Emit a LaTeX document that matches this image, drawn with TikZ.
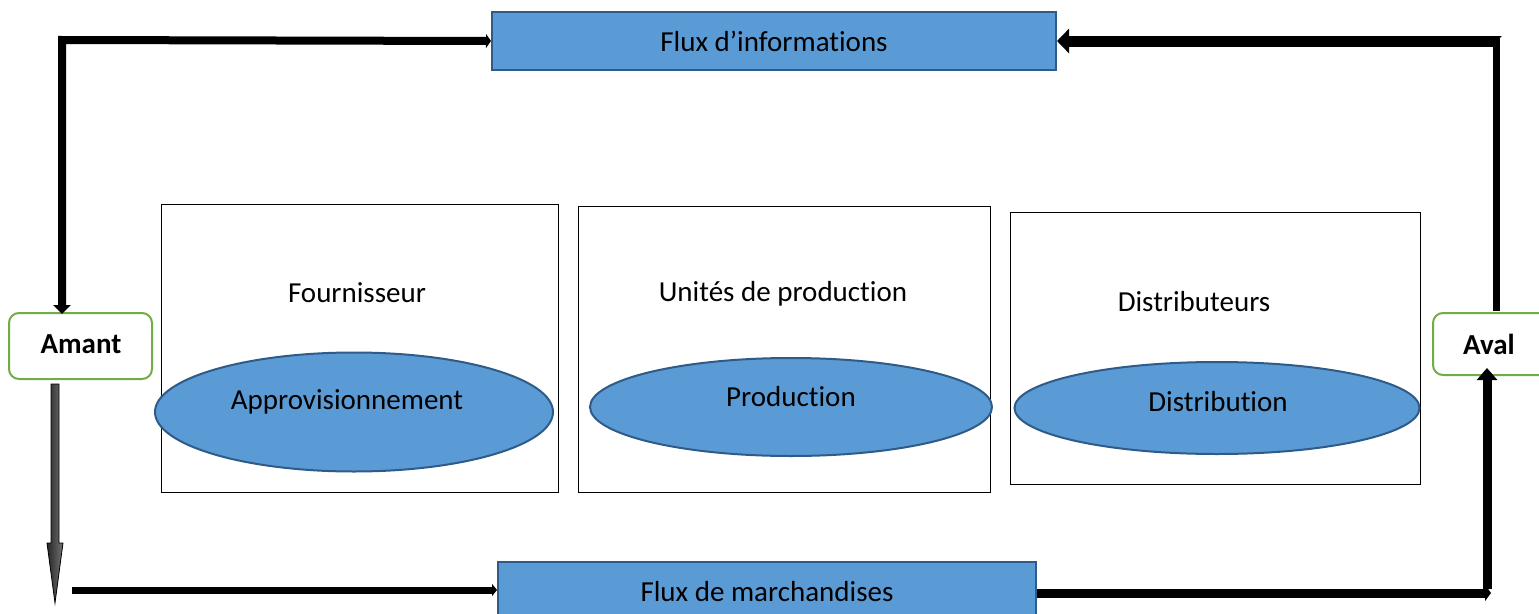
\documentclass[tikz,border=0pt]{standalone}
\usepackage{fontspec}
\setmainfont[Ligatures=NoCommon]{Carlito}
\usetikzlibrary{arrows.meta,shapes.geometric}
\definecolor{fblue}{HTML}{5B9BD5}
\definecolor{dblue}{HTML}{2F5B88}
\definecolor{gborder}{HTML}{70AD47}
\tikzset{
  fluxbox/.style={draw=dblue, line width=2pt, fill=fblue, minimum height=58pt, inner sep=0pt, font=\fontsize{29}{34}\selectfont},
  actor/.style={draw=black, line width=0.8pt, fill=white, inner sep=0pt},
  oval/.style={ellipse, draw=dblue, line width=2pt, fill=fblue, inner sep=0pt},
  lbl/.style={font=\fontsize{29}{34}\selectfont, inner sep=0pt},
  boldlbl/.style={font=\bfseries\fontsize{29}{34}\selectfont, inner sep=0pt},
  endbox/.style={draw=gborder, line width=2pt, rounded corners=10pt, fill=white, inner sep=0pt},
}
\begin{document}
\begin{tikzpicture}[x=1pt,y=-1pt]
\useasboundingbox (0,0) rectangle (1539,613);
\clip (0,0) rectangle (1539,613);
% flux boxes
\node[fluxbox, minimum width=564pt] (info) at (774,41) {Flux d’informations};
\node[fluxbox, minimum width=538pt, minimum height=60pt] (march) at (767,592) {};
\node[lbl] (marchtxt) at (767,592) {Flux de marchandises};
% actor boxes
\node[actor, minimum width=397pt, minimum height=288pt] (four) at (359.5,348) {};
\node[actor, minimum width=412pt, minimum height=286pt] (unit) at (784,349) {};
\node[actor, minimum width=410pt, minimum height=272pt] (dist) at (1215,348) {};
\node[lbl] (fourtxt) at (357,293) {Fournisseur};
\node[lbl] (unittxt) at (783,294) {Unités de production};
\node[lbl] (disttxt) at (1194,302) {Distributeurs};
% ellipses
\node[oval, minimum width=398pt, minimum height=119pt] (appro) at (354,412) {};
\node[lbl] at (347,402) {Approvisionnement};
\node[oval, minimum width=402pt, minimum height=98pt] (prod) at (791,407) {};
\node[lbl] at (791,397) {Production};
\node[oval, minimum width=405pt, minimum height=92pt] (distr) at (1217,408) {};
\node[lbl] at (1218,402) {Distribution};
% end boxes
\node[endbox, minimum width=143pt, minimum height=66pt] (amant) at (80.5,346) {};
\node[boldlbl] at (81,344) {Amant};
\node[endbox, minimum width=120pt, minimum height=62pt] (aval) at (1493,344) {};
\node[boldlbl] at (1489,344) {Aval};
% corner coordinates
\coordinate (tl) at (62,40);
\coordinate (tr) at (1496.5,41);
\coordinate (trtop) at (1496.5,36);
\coordinate (bl) at (72,590);
\coordinate (br) at (1487,593);
% top-left connector
\draw[line width=8pt, {Triangle[length=9pt,width=17pt]}-{Triangle[length=5pt,width=14pt]}]
  ([yshift=-2pt]amant.north -| tl) -- (tl) -- (info.west);
% top-right connector
\draw[line width=7pt] ([yshift=1pt]aval.north -| tr) -- (trtop);
\fill ([xshift=-5.5pt]trtop) -- ([xshift=5.5pt]trtop) -- ([yshift=-5pt]trtop) -- cycle;
\draw[line width=11pt, -{Triangle[length=12pt,width=24pt]}] (tr) -- (info.east);
% bottom-left gradient arrow
\coordinate (de) at (55,603);
\shade[left color=black!85, right color=black!55, draw=black, line width=0.8pt]
  (51,384) -- (59,384) -- (59,543) -- (63,543) -- (de) -- (47,543) -- (51,543) -- cycle;
\draw[line width=7pt, -{Triangle[length=5pt,width=12pt]}] (bl) -- (march.west |- bl);
% bottom-right connector
\draw[line width=9pt, -{Triangle[length=6pt,width=16pt]}] (march.east |- br) -- ([xshift=4pt]br);
\draw[line width=9pt, -{Triangle[length=12pt,width=20pt]}] ([yshift=4.5pt]br) -- ([yshift=8pt]aval.south -| br);
\end{tikzpicture}
\end{document}
